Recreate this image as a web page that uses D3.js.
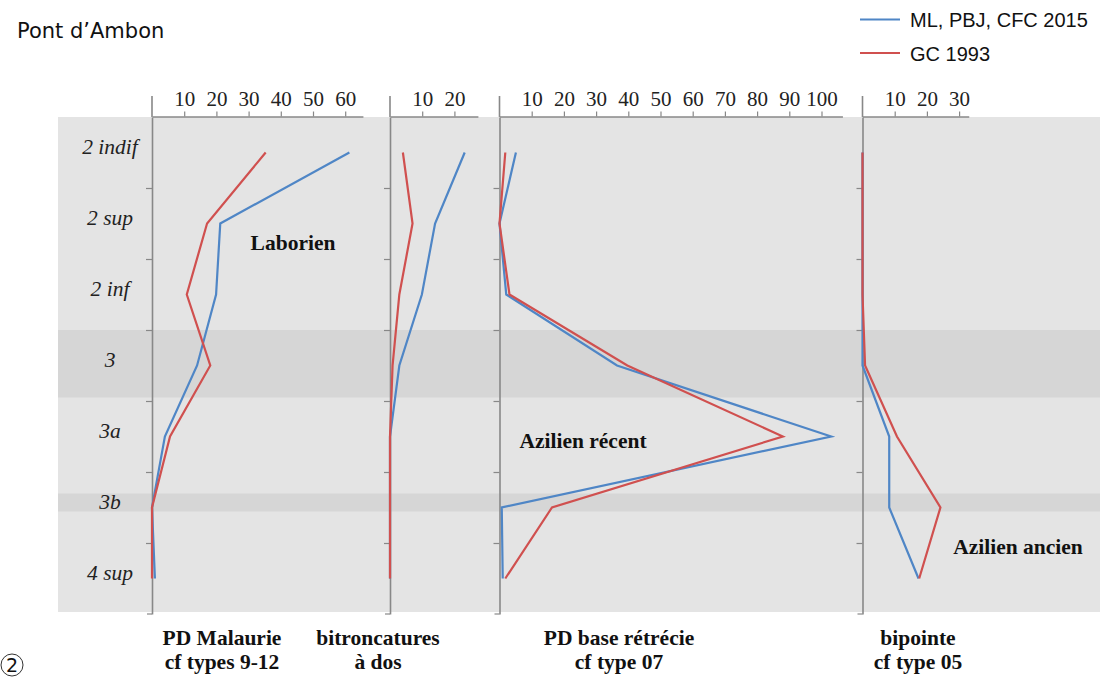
<!DOCTYPE html>
<meta charset="utf-8">
<style>
body { margin: 0; background: #fff; }
.tick text { font-family: "Liberation Serif", serif; font-size: 21px; fill: #222; }
.lbl { font-family: "Liberation Serif", serif; font-weight: bold; font-size: 21.5px; fill: #111; }
</style>
<body>
<script src="https://cdn.jsdelivr.net/npm/d3@7"></script>
<script>

// levels (top to bottom)
var levels = ["2 indif", "2 sup", "2 inf", "3", "3a", "3b", "4 sup"];

// values per panel, blue = ML, PBJ, CFC 2015 ; red = GC 1993
var malaurieBlue = [61.3, 21.2, 19.9, 14, 4, 0, 0.9];
var malaurieRed  = [35.3, 17.1, 10.8, 18.1, 5.6, 0, 0];
var bitroncBlue  = [23.2, 14, 9.9, 2.9, 0, 0, 0];
var bitroncRed   = [4, 7, 2.9, 0.8, 0, 0, 0];
var baseBlue     = [5.1, 0, 2.1, 36.5, 103, 0.7, 1];
var baseRed      = [1.8, 0, 3.1, 39.7, 88, 16.3, 1.8];
var bipointeBlue = [0, 0, 0, 0, 8.3, 8.3, 17.4];
var bipointeRed  = [0, 0, 0, 0.8, 10.7, 24.2, 17.6];

var ticks1 = [10, 20, 30, 40, 50, 60];
var ticks2 = [10, 20];
var ticks3 = [10, 20, 30, 40, 50, 60, 70, 80, 90, 100];
var ticks4 = [10, 20, 30];

var legendNames = ["ML, PBJ, CFC 2015", "GC 1993"];
var colors = ["#4f86c6", "#d0504f"];

var W = 1100, H = 678;
var svg = d3.select("body").append("svg")
    .attr("width", W).attr("height", H);

var top0 = 117, bottom0 = 614;
var y = d3.scaleBand().domain(levels).range([top0, bottom0]).padding(0);
var yc = function (d) { return y(d) + y.bandwidth() / 2; };

// background
svg.append("rect")
    .attr("x", 58).attr("y", top0).attr("width", W - 58).attr("height", 495)
    .attr("fill", "#e4e4e4");
// darker bands for 3 and 3b
svg.append("rect")
    .attr("x", 58).attr("y", y("3")).attr("width", W - 58).attr("height", y.bandwidth() * 0.95)
    .attr("fill", "#d6d6d6");
svg.append("rect")
    .attr("x", 58).attr("y", yc("3b") - 14).attr("width", W - 58).attr("height", 18)
    .attr("fill", "#d6d6d6");

// level labels
svg.selectAll(".lev").data(levels).enter().append("text")
    .attr("class", "lev")
    .attr("x", 110).attr("y", function (d) { return yc(d) - 3; })
    .attr("text-anchor", "middle").attr("dominant-baseline", "middle")
    .style("font-family", "Liberation Serif, serif").style("font-style", "italic")
    .style("font-size", "21.5px").attr("fill", "#222")
    .text(function (d) { return d; });

var pxPerUnit = 3.22;
var panels = [
    {x0: 152, max: 65.5, ticks: ticks1, blue: malaurieBlue, red: malaurieRed, title: ["PD Malaurie", "cf types 9-12"], tx: 222},
    {x0: 390, max: 27.3, ticks: ticks2, blue: bitroncBlue, red: bitroncRed, title: ["bitroncatures", "à dos"], tx: 378},
    {x0: 499.5, max: 106.5, ticks: ticks3, blue: baseBlue, red: baseRed, title: ["PD base rétrécie", "cf type 07"], tx: 619},
    {x0: 862.5, max: 33, ticks: ticks4, blue: bipointeBlue, red: bipointeRed, title: ["bipointe", "cf type 05"], tx: 918}
];

var edge = d3.scaleLinear().domain([0, 7]).range([top0, bottom0]);

panels.forEach(function (p) {
    var x = d3.scaleLinear().domain([0, p.max]).range([p.x0, p.x0 + p.max * pxPerUnit]);

    // top axis
    var ax = svg.append("g")
        .attr("transform", "translate(0," + 116.5 + ")")
        .call(d3.axisTop(x).tickValues(p.ticks).tickSize(5).tickSizeOuter(0).tickPadding(6));
    ax.select(".domain").attr("stroke", "#888").attr("stroke-width", 1.6);
    ax.selectAll(".tick line").attr("stroke", "#888").attr("stroke-width", 1.2);

    // vertical axis
    var ay = svg.append("g")
        .attr("transform", "translate(" + p.x0 + ",0)")
        .call(d3.axisLeft(edge).tickValues([1, 2, 3, 4, 5, 6]).tickFormat("").tickSize(6).tickSizeOuter(0));
    ay.select(".domain").attr("stroke", "#888").attr("stroke-width", 1.6);
    ay.selectAll(".tick line").attr("stroke", "#888").attr("stroke-width", 1.2);
    svg.append("line")
        .attr("x1", p.x0).attr("x2", p.x0).attr("y1", 96).attr("y2", top0)
        .attr("stroke", "#888").attr("stroke-width", 1.6);
    svg.append("line")
        .attr("x1", p.x0 - 5).attr("x2", p.x0).attr("y1", bottom0).attr("y2", bottom0)
        .attr("stroke", "#888").attr("stroke-width", 1.2);

    var line = d3.line()
        .x(function (d) { return x(d[1]); })
        .y(function (d) { return yc(d[0]); });

    [p.blue, p.red].forEach(function (vals, i) {
        svg.append("path")
            .datum(levels.map(function (l, k) { return [l, vals[k]]; }))
            .attr("d", line)
            .attr("fill", "none")
            .attr("stroke", colors[i])
            .attr("stroke-width", 2.2);
    });

    // panel title
    var t = svg.append("text").attr("class", "lbl").attr("text-anchor", "middle");
    t.append("tspan").attr("x", p.tx).attr("y", 645).text(p.title[0]);
    t.append("tspan").attr("x", p.tx).attr("y", 669).text(p.title[1]);
});

// period labels
svg.append("text").attr("class", "lbl").attr("x", 293).attr("y", 250)
    .attr("text-anchor", "middle").text("Laborien");
svg.append("text").attr("class", "lbl").attr("x", 583).attr("y", 448)
    .attr("text-anchor", "middle").text("Azilien récent");
svg.append("text").attr("class", "lbl").attr("x", 1018).attr("y", 554)
    .attr("text-anchor", "middle").text("Azilien ancien");

// title
svg.append("text").attr("x", 17).attr("y", 38)
    .style("font-family", "DejaVu Sans, sans-serif").style("font-size", "21px")
    .attr("fill", "#111").text("Pont d’Ambon");

// legend
legendNames.forEach(function (n, i) {
    var ly = 19.5 + i * 33.5;
    svg.append("line").attr("x1", 860).attr("x2", 900).attr("y1", ly).attr("y2", ly)
        .attr("stroke", colors[i]).attr("stroke-width", 2);
    svg.append("text").attr("x", 910).attr("y", ly + 7.5)
        .style("font-family", "Liberation Sans, Arial, sans-serif").style("font-size", "20px")
        .attr("fill", "#111").text(n);
});

// figure number
svg.append("circle").attr("cx", 12).attr("cy", 665).attr("r", 11)
    .attr("fill", "none").attr("stroke", "#333").attr("stroke-width", 1);
svg.append("text").attr("x", 12).attr("y", 672).attr("text-anchor", "middle")
    .style("font-family", "DejaVu Sans, sans-serif").style("font-size", "19px")
    .attr("fill", "#111").text("2");

</script>
</body>
